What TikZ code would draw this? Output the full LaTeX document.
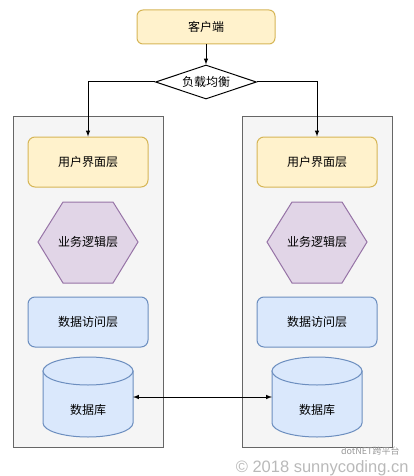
\documentclass[tikz,border=0pt]{standalone}
\usepackage{fontspec}
\setmainfont{Noto Sans CJK SC}
\newfontfamily\wmfont{Liberation Sans}
\usetikzlibrary{shapes.geometric}

\definecolor{yfill}{HTML}{FFF2CC}
\definecolor{yline}{HTML}{D6B656}
\definecolor{pfill}{HTML}{E1D5E7}
\definecolor{pline}{HTML}{9673A6}
\definecolor{bfill}{HTML}{DAE8FC}
\definecolor{bline}{HTML}{6C8EBF}
\definecolor{cfill}{HTML}{F5F5F5}
\definecolor{cline}{HTML}{666666}

\begin{document}
\begin{tikzpicture}[x=1pt,y=-1pt, line width=1pt, every node/.style={font=\fontsize{12}{14}\selectfont},
  layer/.style={rounded corners=7pt, minimum width=120pt, minimum height=50pt, inner sep=0pt}]
\useasboundingbox (0,0) rectangle (413,476);

\node[draw=yline, fill=yfill, rounded corners=6pt, minimum width=138pt, minimum height=34pt] (client) at (206,27) {客户端};
\node[diamond, draw, fill=white, minimum width=101pt, minimum height=34pt, inner sep=0pt, aspect=3] (lb) at (206,82) {负载均衡};

\foreach \cx/\nm in {88/L, 317/R}
   {
	\filldraw[draw=cline, fill=cfill] ({\cx-75},117) rectangle ({\cx+75},447);
	\node[layer, draw=yline, fill=yfill] (ui\nm) at (\cx,162) {用户界面层};
	\filldraw[draw=pline, fill=pfill] ({\cx-50},242) -- ({\cx-25},202) -- ({\cx+25},202)
	   -- ({\cx+50},242) -- ({\cx+25},283) -- ({\cx-25},283) -- cycle;
	\node (biz\nm) at (\cx,242) {业务逻辑层};
	\node[layer, draw=bline, fill=bfill] (dal\nm) at (\cx,322) {数据访问层};
	\filldraw[draw=bline, fill=bfill] ({\cx-45},371) -- ({\cx-45},423)
	   arc[start angle=180, end angle=0, x radius=45, y radius=14] -- ({\cx+45},371) -- cycle;
	\filldraw[draw=bline, fill=bfill] (\cx,371) ellipse[x radius=45, y radius=14];
	\node (db\nm) at (\cx,410) {数据库};
	\coordinate (dbW\nm) at ({\cx-45},397);
	\coordinate (dbE\nm) at ({\cx+45},397);
   };

\draw[-latex] (client) -- (lb);
\draw[-latex] (lb.west) -| (uiL);
\draw[-latex] (lb.east) -| (uiR);
\draw[latex-latex] (dbEL) -- (dbWR);

\node[text=gray!55, inner sep=0pt, font=\wmfont\fontsize{16.5}{18}\selectfont, anchor=base east] (copy) at (409,472) {© 2018 sunnycoding.cn};
\node[text=gray!80, inner sep=0pt, font=\fontsize{9}{10}\selectfont, anchor=base east] (wx) at (400,454) {dotNET跨平台};
\end{tikzpicture}
\end{document}
